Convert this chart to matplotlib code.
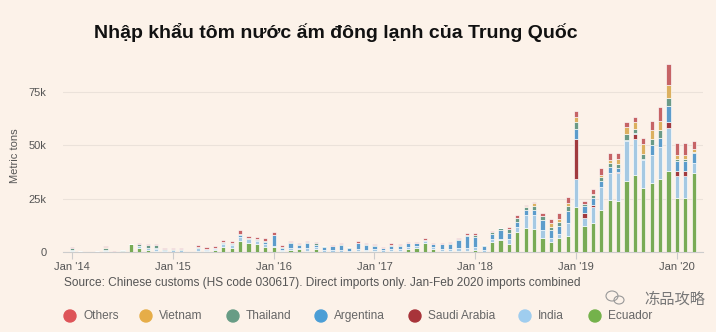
import matplotlib
matplotlib.use("Agg")
import matplotlib.pyplot as plt
import numpy as np
import pandas as pd

plt.rcParams['font.family'] = ['Liberation Sans', 'DejaVu Sans']

# ---------------- data (thousand metric tons), Jan 2014 .. Mar 2020 ----------------
months = pd.date_range("2014-01-01", "2020-03-01", freq="MS")

ecuador = [0.3,0,0,0,0.3,0,0,3.6,2.0,0.8,0.6,0.2,
           0.2,0.2,0,0.5,0.3,0.8,2.5,2.0,5.2,4.4,3.8,2.2,
           2.2,0.3,0.8,1.2,0.6,1.3,0.2,0.2,0.2,0.2,0.3,0.3,
           0.3,0.2,0.3,0.5,1.2,1.8,4.0,1.5,0.5,0.5,0.6,0.6,
           0.8,0.2,4.8,5.6,3.75,9.4,11.4,10.6,6.7,4.5,6.7,7.6,
           21.0,12.2,13.6,19.9,24.6,23.9,33.3,36.0,30.0,32.3,34.1,38.0,
           25.3,25.3,37.0]
india = [0.5,0.2,0,0.2,0.5,0.1,0.3,0.2,0.8,1.0,1.0,0.5,
         0.6,0.6,0.1,1.2,0.8,0.8,1.4,1.4,2.0,1.5,1.4,1.5,
         0.8,0.8,1.2,0.8,1.2,1.2,0.8,0.8,0.8,0.5,1.2,0.8,
         1.0,0.8,1.0,0.8,1.0,1.0,1.0,0.8,0.8,0.8,1.2,1.5,
         1.5,0.8,1.3,0.6,2.3,2.2,5.9,6.7,3.6,1.9,1.6,5.8,
         13.4,3.9,7.5,10.6,12.4,13.1,18.6,17.2,13.0,13.0,15.1,20.1,
         10.3,10.3,4.9]
saudi = [0]*48 + [0]*12 + \
        [18.8,2.4,0.8,0,0,0.5,0,2.0,0,0,0,2.9,
         2.4,2.4,0]
argentina = [0,0,0,0,0,0,0,0,0.2,0.3,0.5,0.2,
             0.2,0.2,0,0.3,0.2,0.2,0.4,0.5,0.8,0.4,0.4,1.2,
             4.8,0.8,2.2,1.4,2.5,1.0,1.5,1.8,2.3,1.4,2.6,2.3,
             1.5,0.8,1.6,1.6,1.8,1.3,0.4,1.3,2.3,2.4,4.0,5.2,
             4.8,1.8,2.2,4.1,2.7,2.3,2.4,2.4,4.7,3.9,3.9,6.0,
             4.3,3.1,3.2,2.6,2.8,1.8,0.8,0.5,0.8,4.7,4.3,7.4,
             4.5,4.5,4.7]
thailand = [1.0,0.3,0.1,0.3,1.2,0.1,0.6,0,0.6,1.0,1.0,0.5,
            0.4,0.4,0.05,0.3,0.3,0.3,0.5,0.4,0.6,0.3,0.3,0.4,
            0.4,0.5,0.4,0.3,0.4,0.6,0.2,0.2,0.3,0.2,0.3,0.2,
            0.5,0.3,0.4,0.3,0.4,0.3,0.3,0.3,0.3,0.3,0.4,0.5,
            0.8,0.3,0.9,0.8,1.8,1.9,1.5,1.9,1.9,1.6,2.0,2.2,
            3.4,0.8,1.6,2.2,2.1,2.0,2.5,1.8,2.0,3.2,3.5,3.8,
            1.0,1.0,0.5]
vietnam = [0.1,0,0,0,0.2,0,0,0,0.1,0.1,0.1,0.1] + [0]*36 + \
          [0,0,0,0,0,0,0.4,1.2,0,1.5,1.3,1.2,
           2.2,0.3,0.3,1.0,1.4,2.4,3.4,3.5,5.0,3.8,4.4,6.3,
           1.8,1.8,1.4]
others = [0.5,0.2,0.1,0.1,0.8,0.1,0.2,0.1,0.3,0.4,0.4,0.2,
          0.3,0.3,0.05,1.0,0.8,0.8,1.0,1.0,1.5,1.1,1.1,1.4,
          1.3,0.7,0.7,0.7,0.6,0.7,0.3,0.3,0.4,0.2,0.9,0.4,
          0.5,0.4,0.7,0.4,0.4,0.4,0.7,0.5,0.5,0.8,0.5,0.95,
          1.2,0.2,0.8,0.3,1.0,1.5,0.4,0.8,1.5,2.1,2.6,2.8,
          2.8,1.2,2.4,3.1,3.0,2.6,2.4,2.3,2.7,4.3,6.6,9.5,
          6.0,6.0,3.4]

series_names = ["Ecuador", "India", "Saudi Arabia", "Argentina", "Thailand", "Vietnam", "Others"]
series_vals = [ecuador, india, saudi, argentina, thailand, vietnam, others]
bar_colors = ["#79ab55", "#a5c9e3", "#a13a3e", "#5c9ccb", "#6b9a86", "#dcb060", "#c66466"]
legend_order = ["Others", "Vietnam", "Thailand", "Argentina", "Saudi Arabia", "India", "Ecuador"]
legend_colors = {"Others": "#de5458", "Vietnam": "#e6ad48", "Thailand": "#679c85",
                 "Argentina": "#4b9ed6", "Saudi Arabia": "#a8343a", "India": "#9fcdef",
                 "Ecuador": "#74b24b"}
year_ticks = ["Jan '14", "Jan '15", "Jan '16", "Jan '17", "Jan '18", "Jan '19", "Jan '20"]
y_ticks = [0, 25, 50, 75]
y_ticklabels = ["0", "25k", "50k", "75k"]

# ---------------- figure ----------------
W, H = 716, 332
bg = "#fcf2e9"
fig = plt.figure(figsize=(W / 100, H / 100), dpi=100, facecolor=bg)

def fx(px):
    return px / W

def fy(py):
    return 1 - py / H

ax_left, ax_right, ax_top, ax_bot = 63, 703, 60, 252
ax = fig.add_axes([fx(ax_left), fy(ax_bot), fx(ax_right - ax_left), (ax_bot - ax_top) / H])
ax.set_facecolor(bg)

x = np.arange(len(months))
bottom = np.zeros(len(months))
for name, vals, col in zip(series_names, series_vals, bar_colors):
    v = np.array(vals, dtype=float)
    ax.bar(x, v, bottom=bottom, width=0.5, color=col, edgecolor="white",
           linewidth=0.45, zorder=3)
    bottom += v

ax.set_ylim(0, 90)
ax.set_xlim(-1.07, 75.1)
ax.set_yticks(y_ticks)
ax.set_yticklabels(y_ticklabels, color="#555555", fontsize=8)
ax.yaxis.grid(True, color="#ebe2da", linewidth=0.8, zorder=0)
ax.tick_params(axis="y", length=0, pad=12)
jan_idx = [i for i, m in enumerate(months) if m.month == 1]
ax.set_xticks(jan_idx)
ax.set_xticklabels(year_ticks, color="#555555", fontsize=8)
ax.tick_params(axis="x", length=5, color="#cccccc", width=0.8, pad=2)
for s in ["top", "right", "left"]:
    ax.spines[s].set_visible(False)
ax.spines["bottom"].set_color("#cccccc")
ax.spines["bottom"].set_linewidth(0.8)
ax.set_ylabel("Metric tons", color="#555555", fontsize=8, labelpad=6)

# title
fig.text(fx(94), fy(32), "Nhập khẩu tôm nước ấm đông lạnh của Trung Quốc",
         fontsize=14, fontweight="bold", color="#111111", ha="left", va="center")

# source
fig.text(fx(64), fy(283),
         "Source: Chinese customs (HS code 030617). Direct imports only. Jan-Feb 2020 imports combined",
         fontsize=8.6, color="#555555", ha="left", va="center")

# legend
leg_x = [70, 146, 233, 321, 415, 525, 595]
for name, lx in zip(legend_order, leg_x):
    fig.patches.append(matplotlib.patches.Ellipse((fx(lx), fy(316)), 12 / W, 12 / H,
                                                  transform=fig.transFigure,
                                                  color=legend_colors[name]))
    fig.text(fx(lx + 13), fy(316), name, fontsize=8.6, color="#666666", ha="left", va="center")

# watermark
fig.text(fx(705), fy(299), "冻品攻略", family=["Noto Sans CJK SC", "DejaVu Sans"],
         fontsize=11, color="#777777", ha="right", va="center")
fig.patches.append(matplotlib.patches.Ellipse((fx(612), fy(296)), 12 / W, 10 / H,
                                              transform=fig.transFigure, fill=False,
                                              edgecolor="#999999", linewidth=0.8))
fig.patches.append(matplotlib.patches.Ellipse((fx(619), fy(300)), 10 / W, 8 / H,
                                              transform=fig.transFigure, fill=False,
                                              edgecolor="#999999", linewidth=0.8))

fig.savefig("out.png", dpi=100, facecolor=bg)
